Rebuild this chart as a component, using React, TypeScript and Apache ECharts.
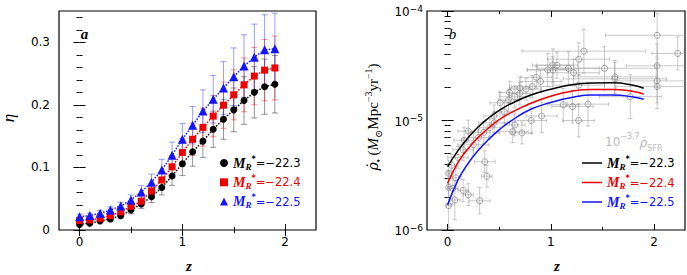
import React, { useEffect, useRef } from 'react';
import * as echarts from 'echarts';

// ---------- Panel a data ----------
const redshifts = [0, 0.1, 0.2, 0.3, 0.4, 0.5, 0.6, 0.7, 0.8, 0.9, 1.0, 1.1, 1.2, 1.3, 1.4, 1.5, 1.6, 1.7, 1.8, 1.9];
const etaM223 = [0.009, 0.011, 0.0144, 0.0176, 0.023, 0.032, 0.0416, 0.053, 0.068, 0.0864, 0.106, 0.125, 0.142, 0.161, 0.177, 0.192, 0.207, 0.22, 0.229, 0.233];
const etaErrM223 = [0.003, 0.003, 0.003, 0.004, 0.004, 0.006, 0.007, 0.009, 0.012, 0.015, 0.019, 0.023, 0.026, 0.029, 0.032, 0.035, 0.038, 0.041, 0.044, 0.046];
const etaM224 = [0.015, 0.016, 0.0187, 0.023, 0.029, 0.038, 0.046, 0.0624, 0.08, 0.101, 0.124, 0.145, 0.164, 0.182, 0.1995, 0.216, 0.232, 0.246, 0.2555, 0.259];
const etaErrM224 = [0.003, 0.003, 0.004, 0.004, 0.005, 0.007, 0.008, 0.011, 0.014, 0.018, 0.022, 0.026, 0.03, 0.033, 0.037, 0.04, 0.043, 0.046, 0.049, 0.051];
const etaM225 = [0.0213, 0.023, 0.0267, 0.032, 0.0384, 0.048, 0.0608, 0.0763, 0.096, 0.1195, 0.145, 0.1675, 0.19, 0.209, 0.227, 0.245, 0.262, 0.276, 0.288, 0.2896];
const etaErrM225 = [0.004, 0.004, 0.004, 0.005, 0.006, 0.008, 0.01, 0.013, 0.017, 0.021, 0.025, 0.03, 0.034, 0.038, 0.042, 0.046, 0.05, 0.053, 0.056, 0.057];

// ---------- Panel b data ----------
const curveZ = [0, 0.1, 0.2, 0.3, 0.4, 0.5, 0.6, 0.8, 1.0, 1.2, 1.4, 1.6, 1.8, 1.9];
const rhoM223 = [3.8e-6, 5.31e-6, 7.0e-6, 8.81e-6, 1.059e-5, 1.236e-5, 1.403e-5, 1.698e-5, 1.93e-5, 2.12e-5, 2.2e-5, 2.21e-5, 2.1e-5, 1.97e-5];
const rhoM224 = [2.67e-6, 4.12e-6, 5.56e-6, 7.05e-6, 8.61e-6, 1.019e-5, 1.161e-5, 1.429e-5, 1.667e-5, 1.849e-5, 1.923e-5, 1.923e-5, 1.841e-5, 1.746e-5];
const rhoM225 = [1.69e-6, 2.85e-6, 4.07e-6, 5.37e-6, 6.76e-6, 8.22e-6, 9.72e-6, 1.259e-5, 1.459e-5, 1.622e-5, 1.706e-5, 1.706e-5, 1.641e-5, 1.563e-5];

// scaled star-formation-rate density compilation (grey)
const sfrZ = [0.01, 0.01, 0.01, 0.07, 0.15, 0.2, 0.31, 0.38, 0.36, 0.04, 0.1, 0.15, 0.25, 0.16, 0.3, 0.35, 0.41, 0.45, 0.51, 0.59, 0.65, 0.7, 0.76, 0.82, 0.86, 0.9, 0.97, 1.02, 1.02, 1.06, 1.17, 1.22, 1.27, 1.32, 1.52, 1.62, 1.62, 1.27, 1.77, 1.36, 1.21, 1.12, 1.27, 0.91, 0.81, 0.65, 0.72, 0.63, 2.03, 2.23, 2.03, 2.03, 2.03, 0.55, 0.45, 0.6, 0.7, 0.2, 0.08, 0.05];
const sfrRho = [3.3e-6, 2.45e-6, 1.67e-6, 1.88e-6, 2.3e-6, 2.1e-6, 1.85e-6, 3.1e-6, 4.2e-6, 3.9e-6, 4.6e-6, 5.4e-6, 6.0e-6, 6.6e-6, 7.0e-6, 7.8e-6, 8.6e-6, 9.5e-6, 1.45e-5, 1.54e-5, 1.65e-5, 1.77e-5, 1.93e-5, 2.04e-5, 2.48e-5, 2.27e-5, 2.9e-5, 3.2e-5, 2.9e-5, 3.2e-5, 3.0e-5, 2.73e-5, 3.63e-5, 4.3e-5, 3.0e-5, 2.5e-5, 2.4e-5, 2.1e-5, 1.65e-5, 1.41e-5, 1.34e-5, 1.39e-5, 1.0e-5, 1.1e-5, 1.0e-5, 9.1e-6, 7.7e-6, 7.9e-6, 6.0e-5, 4.1e-5, 3.16e-5, 2.3e-5, 2.04e-5, 1.2e-5, 1.1e-5, 1.8e-5, 1.98e-5, 8.0e-6, 3.0e-6, 2.4e-6];
const sfrZErr = [0.01, 0.01, 0.02, 0.05, 0.05, 0.05, 0.1, 0.05, 0.1, 0.04, 0.1, 0.1, 0.15, 0.1, 0.1, 0.15, 0.1, 0.15, 0.1, 0.1, 0.15, 0.1, 0.15, 0.2, 0.15, 0.2, 0.2, 0.2, 0.25, 0.2, 0.3, 0.25, 0.3, 0.6, 0.5, 0.4, 0.5, 0.25, 0.3, 0.2, 0.2, 0.15, 0.15, 0.15, 0.15, 0.1, 0.1, 0.15, 0.5, 0.25, 0.3, 0.4, 0.4, 0.1, 0.1, 0.1, 0.1, 0.1, 0.05, 0.05];
const sfrDexErr = [0.12, 0.15, 0.2, 0.18, 0.1, 0.1, 0.12, 0.1, 0.1, 0.1, 0.1, 0.1, 0.1, 0.12, 0.1, 0.1, 0.08, 0.1, 0.1, 0.1, 0.1, 0.1, 0.1, 0.1, 0.1, 0.1, 0.15, 0.15, 0.12, 0.12, 0.15, 0.12, 0.15, 0.2, 0.2, 0.15, 0.15, 0.1, 0.2, 0.2, 0.15, 0.15, 0.15, 0.15, 0.12, 0.1, 0.1, 0.1, 0.2, 0.15, 0.2, 0.2, 0.2, 0.1, 0.1, 0.1, 0.1, 0.1, 0.1, 0.15];

// ---------- ticks & labels ----------
const xMajorTicks = [0, 1, 2];
const xMinorTicks = [0.5, 1.5];
const etaMajorTicks = [0, 0.1, 0.2, 0.3];
const etaMinorTicks = [0.02, 0.04, 0.06, 0.08, 0.12, 0.14, 0.16, 0.18, 0.22, 0.24, 0.26, 0.28, 0.32, 0.34];
const rhoMajorExponents = [-6, -5, -4];
const rhoMinorMultipliers = [2, 3, 4, 5, 6, 7, 8, 9];
const magnitudeLabels = ['−22.3', '−22.4', '−22.5'];

const COLORS = ['#000000', '#ee0000', '#1414ff'];
const ERR_COLORS = ['rgba(0,0,0,0.42)', 'rgba(238,0,0,0.42)', 'rgba(20,20,255,0.42)'];

const SERIF = '"Liberation Serif", "DejaVu Serif", serif';
const DSERIF = '"DejaVu Serif", serif';
const SANS = '"DejaVu Sans", "Liberation Sans", sans-serif';

function tickAxis(gridIndex: number, pos: string, min: number, max: number, ticks: number[], len: number, label?: any) {
  return {
    gridIndex,
    type: 'value',
    min,
    max,
    position: pos,
    axisLine: { show: false },
    splitLine: { show: false },
    axisTick: { show: true, inside: true, length: len, customValues: ticks, lineStyle: { color: '#000', width: 1 } },
    axisLabel: label ? { ...label, customValues: ticks } : { show: false },
  };
}

function legendRich() {
  const r: any = {};
  COLORS.forEach((c, i) => {
    r['m' + i] = { fontFamily: SERIF, fontStyle: 'italic', fontWeight: 'bold', fontSize: 14, color: c, lineHeight: 16, verticalAlign: 'middle' };
    r['r' + i] = { fontFamily: SERIF, fontStyle: 'italic', fontWeight: 'bold', fontSize: 9, color: c, lineHeight: 9, verticalAlign: 'bottom' };
    r['s' + i] = { fontFamily: SANS, fontWeight: 'bold', fontSize: 8, color: c, lineHeight: 8, verticalAlign: 'top' };
    r['v' + i] = { fontFamily: SANS, fontSize: 11.5, color: c, lineHeight: 16, verticalAlign: 'middle' };
  });
  return r;
}

function legendText(i: number) {
  return `{m${i}|M}{r${i}|R}{s${i}|*}{v${i}|=${magnitudeLabels[i]}}`;
}

function buildOption() {
  const leftSets = [
    { name: 'L0', vals: etaM223, errs: etaErrM223, symbol: 'circle', size: 7 },
    { name: 'L1', vals: etaM224, errs: etaErrM224, symbol: 'rect', size: 7 },
    { name: 'L2', vals: etaM225, errs: etaErrM225, symbol: 'triangle', size: 9 },
  ];
  const rightSets = [
    { name: 'R0', vals: rhoM223 },
    { name: 'R1', vals: rhoM224 },
    { name: 'R2', vals: rhoM225 },
  ];

  const rhoMinorTicks: number[] = [];
  rhoMajorExponents.slice(0, -1).forEach((e) => rhoMinorMultipliers.forEach((m) => rhoMinorTicks.push(e + Math.log10(m))));

  const xLabel = { show: true, margin: 6, fontFamily: SANS, fontSize: 12, color: '#000', formatter: (v: number) => String(Math.round(v)) };
  const etaLabel = { show: true, margin: 9, fontFamily: SANS, fontSize: 12, color: '#000', formatter: (v: number) => (Math.abs(v) < 1e-9 ? '0' : v.toFixed(1)) };
  const rhoLabel = {
    show: true,
    margin: 4,
    color: '#000',
    formatter: (v: number) => `{b|10}{s|−${Math.round(-v)}}`,
    rich: {
      b: { fontFamily: SANS, fontSize: 12, lineHeight: 14, verticalAlign: 'bottom', color: '#000' },
      s: { fontFamily: SANS, fontSize: 9, lineHeight: 6, verticalAlign: 'top', color: '#000' },
    },
  };

  const xAxis: any[] = [];
  const yAxis: any[] = [];
  [0, 1].forEach((g) => {
    xAxis.push(tickAxis(g, 'bottom', -0.2, 2.3, xMajorTicks, 6, xLabel));
    xAxis.push(tickAxis(g, 'bottom', -0.2, 2.3, xMinorTicks, 3));
    xAxis.push(tickAxis(g, 'top', -0.2, 2.3, xMajorTicks, 6));
    xAxis.push(tickAxis(g, 'top', -0.2, 2.3, xMinorTicks, 3));
  });
  yAxis.push(tickAxis(0, 'left', 0, 0.35, etaMajorTicks, 6, etaLabel));
  yAxis.push(tickAxis(0, 'left', 0, 0.35, etaMinorTicks, 3));
  yAxis.push(tickAxis(0, 'right', 0, 0.35, etaMajorTicks, 6));
  yAxis.push(tickAxis(0, 'right', 0, 0.35, etaMinorTicks, 3));
  yAxis.push(tickAxis(1, 'left', -6, -4, rhoMajorExponents, 6, rhoLabel));
  yAxis.push(tickAxis(1, 'left', -6, -4, rhoMinorTicks, 3));
  yAxis.push(tickAxis(1, 'right', -6, -4, rhoMajorExponents, 6));
  yAxis.push(tickAxis(1, 'right', -6, -4, rhoMinorTicks, 3));

  const series: any[] = [];

  // grey SFR compilation with x and y error bars
  series.push({
    type: 'custom',
    name: 'sfr',
    coordinateSystem: 'cartesian2d',
    xAxisIndex: 4,
    yAxisIndex: 4,
    clip: true,
    z: 1,
    data: sfrZ.map((z, i) => [z, Math.log10(sfrRho[i]), sfrZErr[i], sfrDexErr[i]]),
    renderItem: (params: any, api: any) => {
      const z = api.value(0);
      const ly = api.value(1);
      const ze = api.value(2);
      const de = api.value(3);
      const c = api.coord([z, ly]);
      const xl = api.coord([z - ze, ly]);
      const xr = api.coord([z + ze, ly]);
      const yt = api.coord([z, ly + de]);
      const yb = api.coord([z, ly - de]);
      const bar = { stroke: 'rgba(150,150,150,0.5)', lineWidth: 1, fill: null };
      const cap = 2;
      return {
        type: 'group',
        children: [
          { type: 'line', shape: { x1: xl[0], y1: xl[1], x2: xr[0], y2: xr[1] }, style: bar },
          { type: 'line', shape: { x1: xl[0], y1: xl[1] - cap, x2: xl[0], y2: xl[1] + cap }, style: bar },
          { type: 'line', shape: { x1: xr[0], y1: xr[1] - cap, x2: xr[0], y2: xr[1] + cap }, style: bar },
          { type: 'line', shape: { x1: yt[0], y1: yt[1], x2: yb[0], y2: yb[1] }, style: bar },
          { type: 'line', shape: { x1: yt[0] - cap, y1: yt[1], x2: yt[0] + cap, y2: yt[1] }, style: bar },
          { type: 'line', shape: { x1: yb[0] - cap, y1: yb[1], x2: yb[0] + cap, y2: yb[1] }, style: bar },
          { type: 'circle', shape: { cx: c[0], cy: c[1], r: 3 }, style: { fill: 'rgba(255,255,255,0)', stroke: 'rgba(140,140,140,0.8)', lineWidth: 1 } },
        ],
      };
    },
  });

  leftSets.forEach((s, k) => {
    series.push({
      type: 'custom',
      name: s.name + 'err',
      coordinateSystem: 'cartesian2d',
      xAxisIndex: 0,
      yAxisIndex: 0,
      z: 1,
      data: redshifts.map((z, i) => [z, s.vals[i], s.errs[i]]),
      renderItem: (params: any, api: any) => {
        const z = api.value(0);
        const v = api.value(1);
        const e = api.value(2);
        const p1 = api.coord([z, v + e]);
        const p2 = api.coord([z, v - e]);
        const st = { stroke: ERR_COLORS[k], lineWidth: 1 };
        return {
          type: 'group',
          children: [
            { type: 'line', shape: { x1: p1[0], y1: p1[1], x2: p2[0], y2: p2[1] }, style: st },
            { type: 'line', shape: { x1: p1[0] - 3, y1: p1[1], x2: p1[0] + 3, y2: p1[1] }, style: st },
            { type: 'line', shape: { x1: p2[0] - 3, y1: p2[1], x2: p2[0] + 3, y2: p2[1] }, style: st },
          ],
        };
      },
    });
  });
  leftSets.forEach((s, k) => {
    series.push({
      type: 'line',
      name: s.name,
      xAxisIndex: 0,
      yAxisIndex: 0,
      z: 3,
      data: redshifts.map((z, i) => [z, s.vals[i]]),
      symbol: s.symbol,
      symbolSize: s.size,
      showSymbol: true,
      itemStyle: { color: COLORS[k] },
      lineStyle: { color: COLORS[k], type: 'dotted', width: 1.5 },
    });
  });
  rightSets.forEach((s, k) => {
    series.push({
      type: 'line',
      name: s.name,
      xAxisIndex: 4,
      yAxisIndex: 4,
      z: 3,
      smooth: 0.5,
      symbol: 'none',
      showSymbol: false,
      data: curveZ.map((z, i) => [z, Math.log10(s.vals[i])]),
      itemStyle: { color: COLORS[k] },
      lineStyle: { color: COLORS[k], width: 1.5 },
    });
  });

  const rich = legendRich();
  const fmt = (name: string) => legendText(Number(name.slice(1)));

  const gridBase = { show: true, borderColor: '#000', borderWidth: 1.2, backgroundColor: 'rgba(0,0,0,0)', containLabel: false, outerBoundsMode: 'none' };

  const ytitleRich = {
    n: { fontFamily: SERIF, fontSize: 15, lineHeight: 20, verticalAlign: 'middle', color: '#000' },
    i: { fontFamily: SERIF, fontStyle: 'italic', fontSize: 15, lineHeight: 20, verticalAlign: 'middle', color: '#000' },
    g: { fontFamily: DSERIF, fontStyle: 'italic', fontSize: 14, lineHeight: 20, verticalAlign: 'middle', color: '#000' },
    sub: { fontFamily: SERIF, fontSize: 10, lineHeight: 10, verticalAlign: 'bottom', color: '#000' },
    sup: { fontFamily: SERIF, fontSize: 10, lineHeight: 10, verticalAlign: 'top', color: '#000' },
  };
  const sfrRich = {
    n: { fontFamily: SANS, fontSize: 12, lineHeight: 20, verticalAlign: 'middle', color: '#bbbbbb' },
    g: { fontFamily: DSERIF, fontStyle: 'italic', fontSize: 13, lineHeight: 20, verticalAlign: 'middle', color: '#bbbbbb' },
    sub: { fontFamily: SANS, fontSize: 8, lineHeight: 8, verticalAlign: 'bottom', color: '#bbbbbb' },
    sup: { fontFamily: SANS, fontSize: 8, lineHeight: 8, verticalAlign: 'top', color: '#bbbbbb' },
  };

  const txt = (x: number, y: number, text: string, font: string, rotation = 0) => ({
    type: 'text',
    x,
    y,
    rotation,
    style: { text, font, fill: '#000', align: 'center', verticalAlign: 'middle', textAlign: 'center', textVerticalAlign: 'middle' },
  });

  return {
    animation: false,
    backgroundColor: '#ffffff',
    textStyle: { fontFamily: SANS },
    grid: [
      { ...gridBase, left: 59, top: 11, width: 257, height: 219 },
      { ...gridBase, left: 427, top: 11, width: 258, height: 219 },
    ],
    xAxis,
    yAxis,
    legend: [
      {
        orient: 'vertical',
        left: 220,
        top: 155,
        padding: 0,
        itemWidth: 8,
        itemHeight: 8,
        itemGap: 3.3,
        selectedMode: false,
        data: [
          { name: 'L0', icon: 'circle' },
          { name: 'L1', icon: 'rect' },
          { name: 'L2', icon: 'triangle' },
        ],
        formatter: fmt,
        textStyle: { rich },
      },
      {
        orient: 'vertical',
        left: 582,
        top: 155,
        padding: 0,
        itemWidth: 20,
        itemHeight: 1.5,
        itemGap: 3.5,
        selectedMode: false,
        data: [
          { name: 'R0', icon: 'rect' },
          { name: 'R1', icon: 'rect' },
          { name: 'R2', icon: 'rect' },
        ],
        formatter: fmt,
        textStyle: { rich },
      },
    ],
    graphic: [
      txt(84.5, 34, 'a', `italic bold 15px ${SERIF}`),
      txt(452.5, 34, 'b', `italic 15px ${SERIF}`),
      txt(8, 118, 'η', `italic 17px ${SERIF}`, Math.PI / 2),
      txt(189, 266, 'z', `italic bold 15px ${SERIF}`),
      txt(557, 266, 'z', `italic bold 15px ${SERIF}`),
      {
        type: 'text',
        x: 373,
        y: 117,
        rotation: Math.PI / 2,
        style: {
          text: '{g|ρ̇}{sub|•} {n|(}{i|M}{sub|⊙}{n|Mpc}{sup|−3}{n|yr}{sup|−1}{n|)}',
          rich: ytitleRich,
          fill: '#000',
          align: 'center',
          verticalAlign: 'middle',
          textAlign: 'center',
          textVerticalAlign: 'middle',
        },
      },
      {
        type: 'text',
        x: 605,
        y: 142,
        style: {
          text: '{n|10}{sup|−3.7}{g|ρ̇}{sub|SFR}',
          rich: sfrRich,
          fill: '#bbbbbb',
          align: 'left',
          verticalAlign: 'middle',
          textAlign: 'left',
          textVerticalAlign: 'middle',
        },
      },
    ],
    series,
  };
}

export default function App() {
  const ref = useRef<HTMLDivElement>(null);
  useEffect(() => {
    if (!ref.current) return;
    const chart = echarts.init(ref.current, null, { renderer: 'svg' });
    chart.setOption(buildOption() as any);
    return () => chart.dispose();
  }, []);
  return <div ref={ref} style={{ position: 'fixed', left: 0, top: 0, width: 687, height: 275 }} />;
}
